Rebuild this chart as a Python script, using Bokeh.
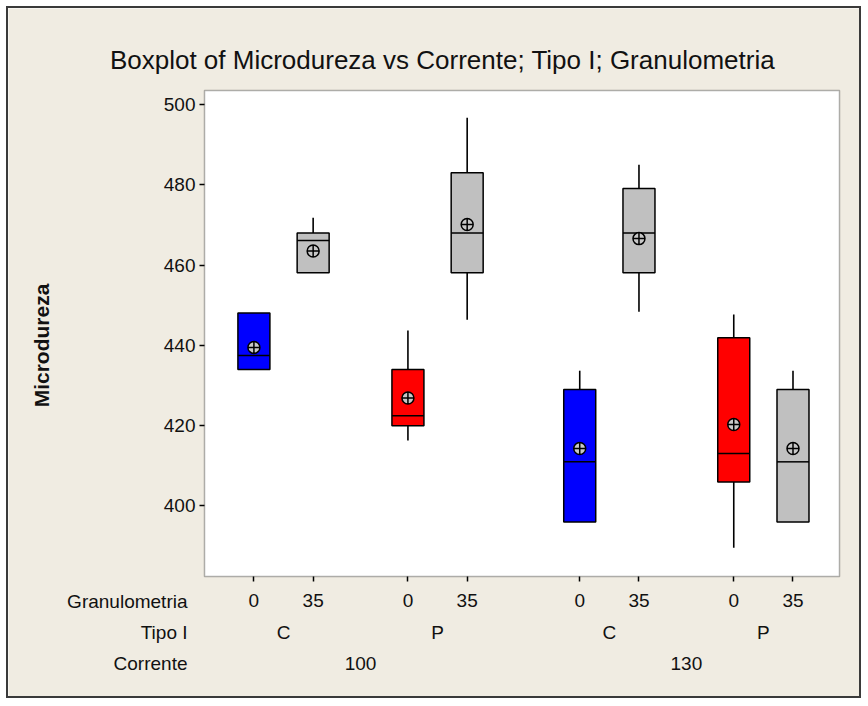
from bokeh.plotting import figure
from bokeh.models import (Range1d, FixedTicker, ColumnDataSource, Label, LinearAxis,
                          BoxAnnotation)
from bokeh.embed import file_html
from bokeh.resources import INLINE
import math

# ---------------- data ----------------
corrente = ["100", "100", "100", "100", "130", "130", "130", "130"]
tipo = ["C", "C", "P", "P", "C", "C", "P", "P"]
granulometria = ["0", "35", "0", "35", "0", "35", "0", "35"]
q1 = [434.0, 458.1, 420.0, 458.1, 396.0, 458.1, 406.0, 396.0]
median = [437.5, 466.1, 422.5, 468.0, 411.0, 468.0, 413.1, 411.0]
q3 = [448.1, 468.0, 434.0, 483.0, 429.0, 479.1, 441.9, 429.0]
lower = [434.0, 458.1, 416.3, 446.4, 396.0, 448.4, 389.6, 396.0]
upper = [448.1, 471.8, 443.7, 496.7, 433.7, 485.0, 447.7, 433.7]
mean = [439.5, 463.5, 426.9, 470.1, 414.3, 466.6, 420.3, 414.3]
y_ticks = [400, 420, 440, 460, 480, 500]
row_titles = ["Granulometria", "Tipo I", "Corrente"]
title_text = "Boxplot of Microdureza vs Corrente; Tipo I; Granulometria"
y_title = "Microdureza"

# ---------------- positions from the category structure ----------------
xs = []
x = 1.0
for i in range(len(granulometria)):
    if i > 0:
        x += 1.0
        if corrente[i] != corrente[i - 1]:
            x += 0.9
        elif tipo[i] != tipo[i - 1]:
            x += 0.6
    xs.append(x)

tipo_x = [(xs[i] + xs[i + 1]) / 2 for i in range(0, len(xs), 2)]
tipo_lab = [tipo[i] for i in range(0, len(xs), 2)]
corr_x = [(xs[i] + xs[i + 3]) / 2 for i in range(0, len(xs), 4)]
corr_lab = [corrente[i] for i in range(0, len(xs), 4)]

def fill_for(t, g):
    if g == "35":
        return "#C0C0C0"
    return "#0000FF" if t == "C" else "#FF0000"

colors = [fill_for(t, g) for t, g in zip(tipo, granulometria)]

src = ColumnDataSource(dict(x=xs, q1=q1, med=median, q3=q3, lo=lower, hi=upper,
                            mean=mean, color=colors))

BG = "#F0ECE2"
FONT = "Liberation Sans"
TXT = "#111111"

# ---------------- layout (page pixels) ----------------
W_FIG, H_FIG = 855, 692
PAGE_L, PAGE_T = 9, 9                 # inner top-left of the figure on the page
AREA_L, AREA_R, AREA_T, AREA_B = 205, 840, 91, 577   # white data area
X0, X1 = 0.166, 10.885                # data range of the white area
Y0, Y1 = 382.44, 503.49

sx = (AREA_R - AREA_L) / (X1 - X0)
sy = (AREA_B - AREA_T) / (Y1 - Y0)
XR0 = X0 - (AREA_L - PAGE_L) / sx
XR1 = X1 + (PAGE_L + W_FIG - AREA_R) / sx
YR1 = Y1 + (AREA_T - PAGE_T) / sy
YR0 = Y0 - (PAGE_T + H_FIG - AREA_B) / sy

def px_x(px):
    return X0 + (px - AREA_L) / sx

def px_y(py):
    return Y1 - (py - AREA_T) / sy

p = figure(width=W_FIG, height=H_FIG, min_border=0,
           x_range=Range1d(XR0, XR1), y_range=Range1d(YR0, YR1),
           output_backend="svg", toolbar_location=None,
           background_fill_color=BG, border_fill_color=BG)
p.styles = {"border": "2px solid #3a3a3a", "margin-left": "6px", "margin-top": "6px"}
p.title.visible = False
p.grid.visible = False
p.outline_line_color = None

# white plot area with its frame
p.add_layout(BoxAnnotation(left=X0, right=X1, bottom=Y0, top=Y1, fill_color="white",
                           fill_alpha=1.0, line_color="black", line_width=1.5,
                           level="underlay"))

# y axis pinned to the left edge of the data area
p.yaxis.fixed_location = X0
p.yaxis.ticker = FixedTicker(ticks=y_ticks)
p.yaxis.minor_tick_line_color = None
p.yaxis.major_tick_in = 0
p.yaxis.major_tick_out = 5
p.yaxis.major_tick_line_width = 1.5
p.yaxis.axis_line_color = None
p.yaxis.major_label_text_font = FONT
p.yaxis.major_label_text_font_size = "19px"
p.yaxis.major_label_text_color = TXT
p.yaxis.major_label_standoff = 4

# x axis (Granulometria row) pinned to the bottom edge of the data area
p.xaxis.fixed_location = Y0
p.xaxis.ticker = FixedTicker(ticks=xs)
p.xaxis.major_label_overrides = {v: g for v, g in zip(xs, granulometria)}
p.xaxis.minor_tick_line_color = None
p.xaxis.major_tick_in = 0
p.xaxis.major_tick_out = 5
p.xaxis.major_tick_line_width = 1.5
p.xaxis.axis_line_color = None
p.xaxis.major_label_text_font = FONT
p.xaxis.major_label_text_font_size = "19px"
p.xaxis.major_label_text_color = TXT
p.xaxis.major_label_standoff = 12

# Tipo I and Corrente rows
for ticks, labs, standoff in [(tipo_x, tipo_lab, 45), (corr_x, corr_lab, 80)]:
    ax = LinearAxis(ticker=FixedTicker(ticks=ticks), fixed_location=Y0,
                    major_label_overrides={v: l for v, l in zip(ticks, labs)})
    ax.axis_line_color = None
    ax.major_tick_line_color = None
    ax.minor_tick_line_color = None
    ax.major_tick_out = 0
    ax.major_tick_in = 0
    ax.major_label_text_font = FONT
    ax.major_label_text_font_size = "19px"
    ax.major_label_text_color = TXT
    ax.major_label_standoff = standoff
    p.add_layout(ax, "below")

# boxes
W = 0.54
p.segment(x0="x", y0="q3", x1="x", y1="hi", source=src, line_color="black", line_width=1.6)
p.segment(x0="x", y0="q1", x1="x", y1="lo", source=src, line_color="black", line_width=1.6)
p.vbar(x="x", width=W, bottom="q1", top="q3", source=src, fill_color="color",
       line_color="black", line_width=1.5)
src_med = ColumnDataSource(dict(x0=[v - W / 2 for v in xs], x1=[v + W / 2 for v in xs], y=median))
p.segment(x0="x0", y0="y", x1="x1", y1="y", source=src_med, line_color="black", line_width=1.5)
p.scatter(x="x", y="mean", source=src, marker="circle_cross", size=12,
          fill_color="#C8C8C8", line_color="black", line_width=1.5)

# title and y-axis title
p.add_layout(Label(x=px_x(443), y=px_y(60), text=title_text, text_align="center",
                   text_baseline="middle", text_font=FONT, text_font_size="26px",
                   text_color=TXT))
p.add_layout(Label(x=px_x(42), y=px_y(346), text=y_title, angle=math.pi / 2,
                   text_align="center", text_baseline="middle", text_font=FONT,
                   text_font_size="21px", text_font_style="bold", text_color=TXT))

# row titles
for name, ry in zip(row_titles, [602, 633, 664]):
    p.add_layout(Label(x=px_x(188), y=px_y(ry), text=name, text_align="right",
                       text_baseline="middle", text_font=FONT, text_font_size="19px",
                       text_color=TXT))

open("out.html", "w").write(file_html(p, INLINE))
